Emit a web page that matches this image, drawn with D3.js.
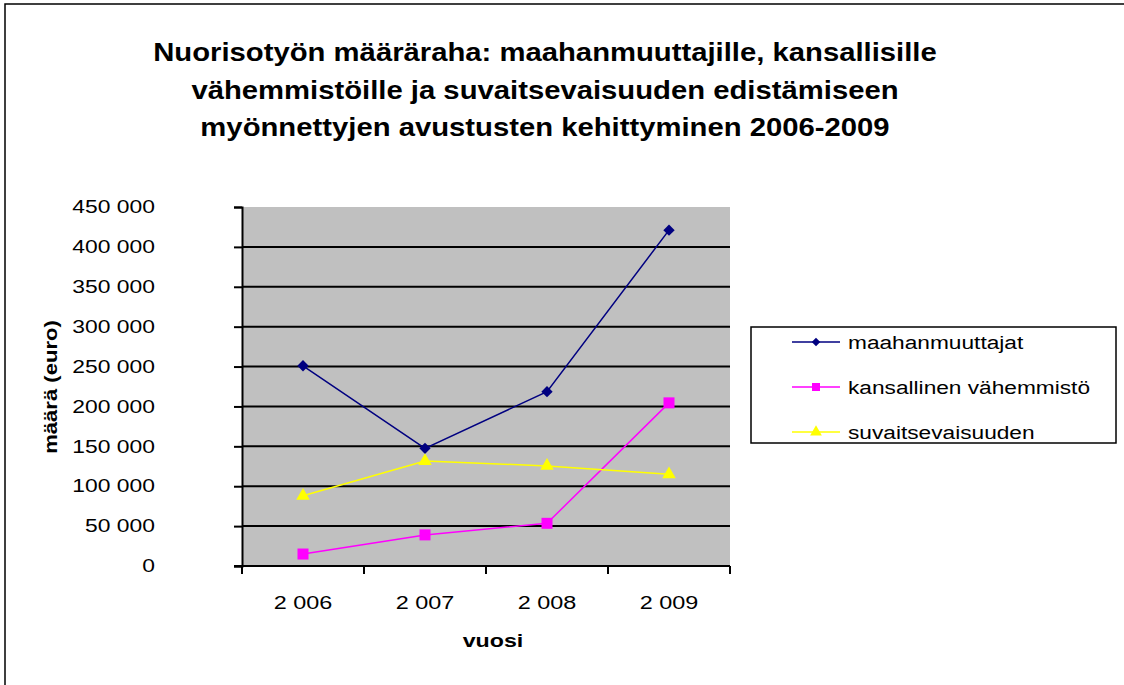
<!DOCTYPE html>
<html>
<head>
<meta charset="utf-8">
<script src="https://cdn.jsdelivr.net/npm/d3@7"></script>
<style>
  body { margin: 0; background: #fff; }
  text { font-family: "Liberation Sans", Arial, sans-serif; }
</style>
</head>
<body>
<script>
/* chart data */
var years = ["2 006", "2 007", "2 008", "2 009"];
var maahanmuuttajat = [251000, 147500, 218500, 421000];
var kansallinen = [15000, 39000, 53500, 204500];
var suvaitsevaisuuden = [88000, 131500, 125500, 115000];
var seriesNames = ["maahanmuuttajat", "kansallinen vähemmistö", "suvaitsevaisuuden"];
var yTicks = [0, 50000, 100000, 150000, 200000, 250000, 300000, 350000, 400000, 450000];
var titleLines = ["Nuorisotyön määräraha: maahanmuuttajille, kansallisille",
                  "vähemmistöille ja suvaitsevaisuuden edistämiseen",
                  "myönnettyjen avustusten kehittyminen 2006-2009"];

var W = 1124, H = 685;
var plot = { left: 242, top: 207, right: 730, bottom: 566 };

var svg = d3.select("body").append("svg")
    .attr("width", W)
    .attr("height", H);

/* the original was drawn with a wider hinted Arial, so stretch texts sideways */
function stretch(sel, k) {
    sel.each(function() {
        var w = this.getComputedTextLength();
        d3.select(this).attr("textLength", w * k).attr("lengthAdjust", "spacingAndGlyphs");
    });
}

/* outer frame */
svg.append("rect")
    .attr("x", 5).attr("y", 4)
    .attr("width", W + 10).attr("height", H + 10)
    .attr("fill", "#fff").attr("stroke", "#000").attr("stroke-width", 1.5);

/* title */
svg.append("g").selectAll("text")
    .data(titleLines)
    .enter().append("text")
    .attr("x", 545)
    .attr("y", function(d, i) { return 61 + i * 37.5 })
    .attr("text-anchor", "middle")
    .attr("font-size", 25)
    .attr("font-weight", "bold")
    .text(function(d) { return d })
    .call(stretch, 1.17);

var x = d3.scaleBand()
    .domain(years)
    .range([plot.left, plot.right]);

var y = d3.scaleLinear()
    .domain([0, 450000])
    .range([plot.bottom, plot.top]);

/* plot background */
svg.append("rect")
    .attr("x", plot.left).attr("y", plot.top)
    .attr("width", plot.right - plot.left)
    .attr("height", plot.bottom - plot.top)
    .attr("fill", "#c0c0c0");

/* gridlines */
svg.append("g").selectAll("line")
    .data(yTicks.filter(function(d) { return d > 0 && d < 450000 }))
    .enter().append("line")
    .attr("x1", plot.left).attr("x2", plot.right)
    .attr("y1", function(d) { return y(d) })
    .attr("y2", function(d) { return y(d) })
    .attr("stroke", "#000").attr("stroke-width", 2);

/* y axis */
var yAxis = d3.axisLeft(y)
    .tickValues(yTicks)
    .tickSize(8)
    .tickFormat(function(d) { return d3.format(",")(d).replace(/,/g, " ") });

var yg = svg.append("g")
    .attr("transform", "translate(" + plot.left + ",0)")
    .call(yAxis);
yg.select(".domain").attr("stroke", "#000").attr("stroke-width", 2);
yg.selectAll(".tick line").attr("stroke", "#000").attr("stroke-width", 2);
yg.selectAll(".tick text")
    .attr("font-size", 18)
    .attr("fill", "#000")
    .attr("font-family", "Liberation Sans, Arial, sans-serif")
    .attr("x", -87)
    .call(stretch, 1.27);

/* x axis */
var xAxis = d3.axisBottom(x).tickSize(0).tickPadding(30);
var xg = svg.append("g")
    .attr("transform", "translate(0," + plot.bottom + ")")
    .call(xAxis);
xg.select(".domain").remove();
xg.selectAll(".tick text")
    .attr("font-size", 18)
    .attr("fill", "#000")
    .attr("font-family", "Liberation Sans, Arial, sans-serif")
    .call(stretch, 1.3);

svg.append("line")
    .attr("x1", plot.left - 8).attr("x2", plot.right)
    .attr("y1", plot.bottom).attr("y2", plot.bottom)
    .attr("stroke", "#000").attr("stroke-width", 2);

var bounds = years.map(function(d) { return x(d) }).concat([plot.right]);
svg.append("g").selectAll("line")
    .data(bounds)
    .enter().append("line")
    .attr("x1", function(d) { return d })
    .attr("x2", function(d) { return d })
    .attr("y1", plot.bottom).attr("y2", plot.bottom + 8)
    .attr("stroke", "#000").attr("stroke-width", 2);

/* axis titles */
svg.append("text")
    .attr("x", 493).attr("y", 647)
    .attr("text-anchor", "middle")
    .attr("font-size", 19).attr("font-weight", "bold")
    .text("vuosi")
    .call(stretch, 1.22);

svg.append("text")
    .attr("transform", "translate(57,387) rotate(-90)")
    .attr("text-anchor", "middle")
    .attr("font-size", 19).attr("font-weight", "bold")
    .text("määrä (euro)")
    .call(stretch, 1.16);

/* series */
var series = [
    { name: seriesNames[0], values: maahanmuuttajat, color: "#000080", shape: d3.symbolSquare, size: 64, rot: 45, lsize: 36 },
    { name: seriesNames[1], values: kansallinen, color: "#ff00ff", shape: d3.symbolSquare, size: 121, rot: 0, lsize: 64 },
    { name: seriesNames[2], values: suvaitsevaisuuden, color: "#ffff00", shape: d3.symbolTriangle, size: 80, rot: 0, lsize: 60 }
];

var line = d3.line()
    .x(function(d, i) { return x(years[i]) + x.bandwidth() / 2 })
    .y(function(d) { return y(d) });

series.forEach(function(s) {
    svg.append("path")
        .datum(s.values)
        .attr("d", line)
        .attr("fill", "none")
        .attr("stroke", s.color)
        .attr("stroke-width", 1.5);

    svg.append("g").selectAll("path")
        .data(s.values)
        .enter().append("path")
        .attr("d", d3.symbol().type(s.shape).size(s.size))
        .attr("transform", function(d, i) {
            return "translate(" + (x(years[i]) + x.bandwidth() / 2) + "," + y(d) + ") rotate(" + s.rot + ")"
        })
        .attr("fill", s.color);
});

/* legend */
var legend = svg.append("g");
legend.append("rect")
    .attr("x", 751).attr("y", 327)
    .attr("width", 365).attr("height", 116)
    .attr("fill", "#fff").attr("stroke", "#000").attr("stroke-width", 1.5);

var items = legend.selectAll("g.item")
    .data(series)
    .enter().append("g")
    .attr("class", "item")
    .attr("transform", function(d, i) { return "translate(0," + (342 + i * 45) + ")" });

items.append("line")
    .attr("x1", 792).attr("x2", 840)
    .attr("stroke", function(d) { return d.color })
    .attr("stroke-width", 1.5);

items.append("path")
    .attr("d", function(d) { return d3.symbol().type(d.shape).size(d.lsize)() })
    .attr("transform", function(d) { return "translate(816,0) rotate(" + d.rot + ")" })
    .attr("fill", function(d) { return d.color });

items.append("text")
    .attr("x", 848).attr("y", 7)
    .attr("font-size", 18)
    .text(function(d) { return d.name })
    .call(stretch, 1.26);
</script>
</body>
</html>
